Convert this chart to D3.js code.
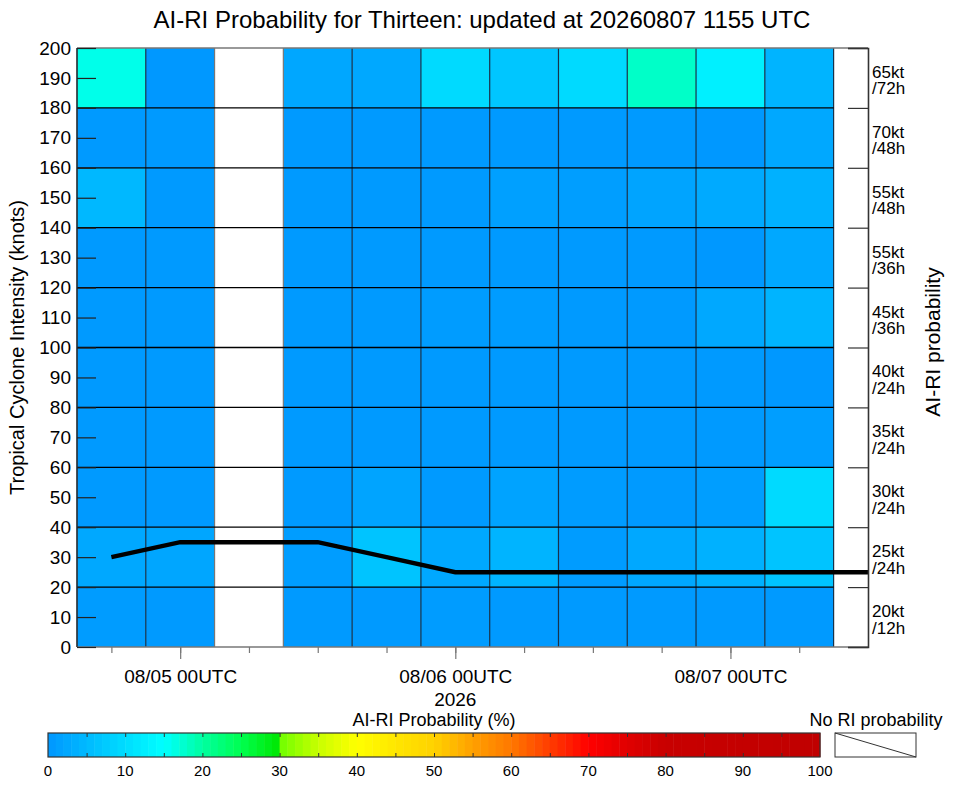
<!DOCTYPE html>
<html>
<head>
<meta charset="utf-8">
<script src="https://cdn.jsdelivr.net/npm/d3@7"></script>
<style>
body{margin:0;background:#fff;}
svg{font-family:"Liberation Sans",Arial,Helvetica,sans-serif;}
</style>
</head>
<body>
<svg id="myGraph" width="963" height="785"></svg>
<script>
// 6時間ごとの枠（中心時刻）
var slotTimes = ["2026-08-04T18","2026-08-05T00","2026-08-05T06","2026-08-05T12","2026-08-05T18",
                 "2026-08-06T00","2026-08-06T06","2026-08-06T12","2026-08-06T18","2026-08-07T00","2026-08-07T06"];
// 強度の実況（黒線）
var trackTimes = ["2026-08-04T18","2026-08-05T00","2026-08-05T06","2026-08-05T12","2026-08-05T18",
                  "2026-08-06T00","2026-08-06T06","2026-08-06T12","2026-08-06T18","2026-08-07T00","2026-08-07T06","2026-08-07T12"];
var trackVmax = [30,35,35,35,30,25,25,25,25,25,25,25];
// 行の下端 (kt) と右側のRIしきい値
var rowBottoms = [0,20,40,60,80,100,120,140,160,180];
var riKt = ["20kt","25kt","30kt","35kt","40kt","45kt","55kt","55kt","70kt","65kt"];
var riHr = ["/12h","/24h","/24h","/24h","/24h","/36h","/36h","/48h","/48h","/72h"];
// AI-RI確率 (%)  行 = rowBottoms, 列 = slotTimes, null = 確率なし
var riProb = [
  [0.8, 0.5, null, 0.5, 0.5, 0.9, 0.5, 0.5, 0.5, 0.5, 0.5],
  [2.6, 2.3, null, 1.0, 6.6, 2.6, 4.3, 0.9, 2.6, 3.8, 6.6],
  [0.5, 0.5, null, 0.5, 2.0, 0.5, 1.8, 0.9, 0.5, 1.2, 9.7],
  [0.5, 0.5, null, 0.5, 0.5, 0.5, 0.5, 0.5, 0.5, 0.5, 1.2],
  [0.5, 0.5, null, 0.5, 0.5, 0.5, 0.5, 0.5, 0.5, 0.5, 0.3],
  [0.5, 0.5, null, 0.5, 0.5, 0.9, 0.9, 0.5, 0.5, 2.6, 4.3],
  [0.5, 0.5, null, 0.5, 0.5, 0.5, 0.5, 0.5, 0.5, 0.3, 2.6],
  [4.9, 0.5, null, 0.5, 0.5, 0.5, 1.4, 1.2, 2.0, 2.9, 3.8],
  [0.5, 0.5, null, 0.5, 0.5, 0.5, 0.5, 0.6, 0.5, 0.3, 2.6],
  [16.1, 0.3, null, 2.4, 2.6, 9.7, 6.9, 9.7, 17.9, 12.9, 4.3]
];
var majorTimes = ["2026-08-05T00","2026-08-06T00","2026-08-07T00"];
var cbarTicks = [0,10,20,30,40,50,60,70,80,90,100];

// カラーマップ
var cmapStops = [0, 15, 20, 25, 30, 30.5, 35, 40, 45, 50, 55, 60, 65, 70, 75, 80, 100];
var cmapColors = ["#0096ff","#00ffff","#00ffa0","#00ff50","#00e600","#78ff00","#c8ff00","#ffff00",
                  "#ffe600","#ffd200","#ffa000","#ff7800","#ff3c00","#ff0000","#e00000","#c80000","#c00000"];
var color = d3.scaleLinear().domain(cmapStops).range(cmapColors).clamp(true);

var parse = d3.utcParse("%Y-%m-%dT%H");
var svg = d3.select("#myGraph");

var pL = 77, pR = 868, pT = 48, pB = 647;
var x = d3.scaleUtc()
    .domain([parse("2026-08-04T15"), parse("2026-08-07T12")])
    .range([pL, pR]);
var y = d3.scaleLinear().domain([0, 200]).range([pB, pT]);
var halfSlot = 3 * 3600 * 1000;
function slotStart(t){ return new Date(+parse(t) - halfSlot); }
function slotEnd(t){ return new Date(+parse(t) + halfSlot); }

// セル
var cells = [];
riProb.forEach(function(row, r){
    row.forEach(function(v, c){
        cells.push({r: r, c: c, v: v});
    });
});
svg.append("g").selectAll("rect")
    .data(cells)
    .enter()
    .append("rect")
    .attr("x", function(d){ return x(slotStart(slotTimes[d.c])); })
    .attr("width", function(d){ return x(slotEnd(slotTimes[d.c])) - x(slotStart(slotTimes[d.c])); })
    .attr("y", function(d){ return y(rowBottoms[d.r] + 20); })
    .attr("height", function(d){ return y(rowBottoms[d.r]) - y(rowBottoms[d.r] + 20); })
    .attr("fill", function(d){ return d.v == null ? "#ffffff" : color(d.v); });

var cellRight = x(slotEnd(slotTimes[slotTimes.length - 1]));

// 縦線（セル境界）
var edges = slotTimes.map(slotStart);
edges.push(slotEnd(slotTimes[slotTimes.length - 1]));
svg.append("g").selectAll("line")
    .data(edges)
    .enter()
    .append("line")
    .attr("x1", function(d){ return x(d); })
    .attr("x2", function(d){ return x(d); })
    .attr("y1", pT).attr("y2", pB)
    .attr("stroke", function(d, i){ return (i == 2 || i == 3) ? "#777" : "#17324a"; })
    .attr("stroke-width", 1.2);

// 横線（20ktごと）
svg.append("g").selectAll("line")
    .data(rowBottoms.slice(1))
    .enter()
    .append("line")
    .attr("x1", pL).attr("x2", cellRight)
    .attr("y1", function(d){ return y(d); })
    .attr("y2", function(d){ return y(d); })
    .attr("stroke", "#000")
    .attr("stroke-width", 1.3);

// 枠
svg.append("line").attr("x1", pL).attr("x2", pR).attr("y1", pT).attr("y2", pT)
    .attr("stroke", "#777").attr("stroke-width", 1.5);
svg.append("line").attr("x1", pL).attr("x2", pR).attr("y1", pB).attr("y2", pB)
    .attr("stroke", "#777").attr("stroke-width", 1.5);
svg.append("line").attr("x1", pL).attr("x2", pL).attr("y1", pT).attr("y2", pB)
    .attr("stroke", "#333").attr("stroke-width", 1.2);

// 強度の線
var line = d3.line()
    .x(function(d, i){ return x(parse(trackTimes[i])); })
    .y(function(d){ return y(d); });
svg.append("path")
    .datum(trackVmax)
    .attr("d", line)
    .attr("fill", "none")
    .attr("stroke", "#000")
    .attr("stroke-width", 4.5);

// 左軸
var yAxis = d3.axisLeft(y)
    .tickValues(d3.range(0, 201, 10))
    .tickSize(-19)
    .tickPadding(6);
var gy = svg.append("g").attr("transform", "translate(" + pL + ",0)").call(yAxis);
gy.select(".domain").remove();
gy.selectAll(".tick line").attr("stroke", "#222").attr("stroke-width", 1.2);
gy.selectAll(".tick text").attr("font-size", 19).attr("fill", "#000").attr("font-family", null);

// 右軸
var yAxisR = d3.axisRight(y)
    .tickValues(rowBottoms.concat([200]))
    .tickSize(-20)
    .tickFormat("");
var gr = svg.append("g").attr("transform", "translate(" + pR + ",0)").call(yAxisR);
gr.select(".domain").attr("stroke", "#333").attr("stroke-width", 1.6);
gr.selectAll(".tick line").attr("stroke", "#333").attr("stroke-width", 1.2);

var rl = svg.append("g").selectAll("text")
    .data(rowBottoms)
    .enter()
    .append("text")
    .attr("x", pR + 4)
    .attr("y", function(d){ return y(d + 10); })
    .attr("font-size", 17)
    .attr("fill", "#000");
rl.append("tspan").attr("x", pR + 4).text(function(d, i){ return riKt[i]; });
rl.append("tspan").attr("x", pR + 4).attr("dy", 16.5).text(function(d, i){ return riHr[i]; });

// 下軸
var xMinor = d3.axisBottom(x)
    .tickValues(slotTimes.map(parse))
    .tickSize(6)
    .tickFormat("");
var gxm = svg.append("g").attr("transform", "translate(0," + pB + ")").call(xMinor);
gxm.select(".domain").remove();
gxm.selectAll(".tick line").attr("stroke", "#777").attr("stroke-width", 1.2);

var xMajor = d3.axisBottom(x)
    .tickValues(majorTimes.map(parse))
    .tickSize(12)
    .tickPadding(11)
    .tickFormat(d3.utcFormat("%m/%d %HUTC"));
var gx = svg.append("g").attr("transform", "translate(0," + pB + ")").call(xMajor);
gx.select(".domain").remove();
gx.selectAll(".tick line").attr("stroke", "#777").attr("stroke-width", 1.2);
gx.selectAll(".tick text").attr("font-size", 19).attr("fill", "#000").attr("font-family", null);

svg.append("text")
    .attr("x", x(parse(majorTimes[1])))
    .attr("y", 706)
    .attr("text-anchor", "middle")
    .attr("font-size", 19)
    .text("2026");

// タイトル
svg.append("text")
    .attr("x", 482).attr("y", 28)
    .attr("text-anchor", "middle")
    .attr("font-size", 24)
    .text("AI-RI Probability for Thirteen: updated at 20260807 1155 UTC");

svg.append("text")
    .attr("transform", "translate(24," + ((pT + pB) / 2) + ") rotate(-90)")
    .attr("text-anchor", "middle")
    .attr("font-size", 20)
    .text("Tropical Cyclone Intensity (knots)");

svg.append("text")
    .attr("transform", "translate(940,342) rotate(-90)")
    .attr("text-anchor", "middle")
    .attr("font-size", 21)
    .text("AI-RI probability");

// カラーバー
var cx = d3.scaleLinear().domain([0, 100]).range([48, 820]);
var cTop = 733, cBot = 757;
svg.append("g").selectAll("rect")
    .data(d3.range(0, 100, 1))
    .enter()
    .append("rect")
    .attr("x", function(d){ return cx(d); })
    .attr("width", function(d){ return cx(d + 1) - cx(d) + 0.5; })
    .attr("y", cTop)
    .attr("height", cBot - cTop)
    .attr("fill", function(d){ return color(d + 0.5); });
svg.append("rect")
    .attr("x", cx(0)).attr("y", cTop)
    .attr("width", cx(100) - cx(0)).attr("height", cBot - cTop)
    .attr("fill", "none").attr("stroke", "#333").attr("stroke-width", 1.2);

var cAxisT = d3.axisBottom(cx).tickValues(d3.range(5, 100, 5)).tickSize(4).tickFormat("");
var gct = svg.append("g").attr("transform", "translate(0," + cTop + ")").call(cAxisT);
gct.select(".domain").remove();
gct.selectAll(".tick line").attr("stroke", "#333");
var cAxisB = d3.axisTop(cx).tickValues(d3.range(5, 100, 5)).tickSize(4).tickFormat("");
var gcb = svg.append("g").attr("transform", "translate(0," + cBot + ")").call(cAxisB);
gcb.select(".domain").remove();
gcb.selectAll(".tick line").attr("stroke", "#333");

svg.append("g").selectAll("text")
    .data(cbarTicks)
    .enter()
    .append("text")
    .attr("x", function(d){ return cx(d); })
    .attr("y", 776)
    .attr("text-anchor", "middle")
    .attr("font-size", 15)
    .text(function(d){ return d; });

svg.append("text")
    .attr("x", 434).attr("y", 726)
    .attr("text-anchor", "middle")
    .attr("font-size", 18)
    .text("AI-RI Probability (%)");

// 確率なしの凡例
svg.append("text")
    .attr("x", 876).attr("y", 726)
    .attr("text-anchor", "middle")
    .attr("font-size", 18)
    .text("No RI probability");
svg.append("rect")
    .attr("x", 835).attr("y", cTop)
    .attr("width", 81).attr("height", cBot - cTop)
    .attr("fill", "#fff").attr("stroke", "#333").attr("stroke-width", 1);
svg.append("line")
    .attr("x1", 835).attr("y1", cTop).attr("x2", 916).attr("y2", cBot)
    .attr("stroke", "#333").attr("stroke-width", 1);
</script>
</body>
</html>
